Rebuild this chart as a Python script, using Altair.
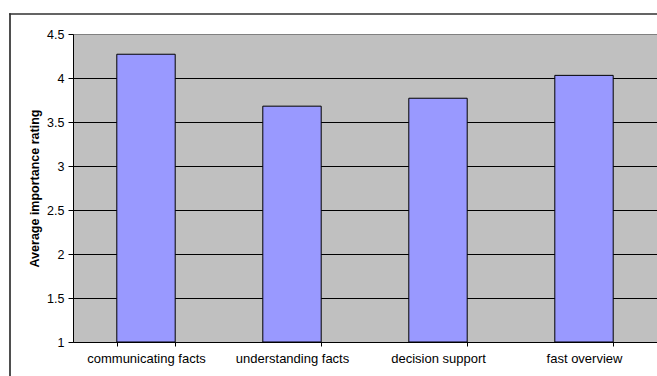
import altair as alt
import pandas as pd

# Survey results: average importance rating per purpose
purposes = ["communicating facts", "understanding facts", "decision support", "fast overview"]
ratings = [4.27, 3.68, 3.77, 4.03]
y_ticks = [1, 1.5, 2, 2.5, 3, 3.5, 4, 4.5]
y_title = "Average importance rating"

df = pd.DataFrame({"purpose": purposes, "rating": ratings})

FONT = "Liberation Sans"
PLOT_W, PLOT_H = 584, 308
FRAME_COLOR = "#303030"

bars = alt.Chart(df).mark_bar(
    color="#9999FF", stroke="#000000", strokeWidth=1
).encode(
    x=alt.X(
        "purpose:N",
        sort=purposes,
        title=None,
        scale=alt.Scale(paddingInner=0.6, paddingOuter=0.3),
        axis=alt.Axis(
            labelAngle=0,
            tickBand="extent",
            tickSize=4,
            tickColor="#000000",
            domainColor="#000000",
            labelPadding=6,
            labelFont=FONT,
            labelFontSize=13,
            labelColor="#000000",
            grid=False,
        ),
    ),
    y=alt.Y(
        "rating:Q",
        title=y_title,
        scale=alt.Scale(domain=[1, 4.5], nice=False, zero=False),
        axis=alt.Axis(
            values=y_ticks,
            format=".1~f",
            tickSize=5,
            tickColor="#000000",
            domainColor="#000000",
            labelPadding=4,
            labelFont=FONT,
            labelFontSize=12.5,
            labelColor="#000000",
            titleFont=FONT,
            titleFontSize=12.5,
            titleFontWeight="bold",
            titleColor="#000000",
            titlePadding=5,
            grid=True,
            gridColor={"condition": {"test": "datum.value >= 4.5", "value": "#808080"}, "value": "#000000"},
            gridWidth=1,
            gridOpacity=1,
        ),
    ),
    y2=alt.datum(1),
)

# Outer chart frame: left and top edges (the rest runs off the canvas)
frame_left = alt.Chart(alt.Data(values=[{}])).mark_rule(
    color=FRAME_COLOR, strokeWidth=1.7
).encode(
    x=alt.value(-63),
    y=alt.value(-20.85),
    y2=alt.value(PLOT_H + 80),
)
frame_top = alt.Chart(alt.Data(values=[{}])).mark_rule(
    color=FRAME_COLOR, strokeWidth=1.7
).encode(
    x=alt.value(-63.85),
    x2=alt.value(PLOT_W + 40),
    y=alt.value(-20),
)

chart = alt.layer(bars, frame_left, frame_top).properties(
    width=PLOT_W,
    height=PLOT_H,
    background="#FFFFFF",
    padding={"left": 73, "top": 34, "right": 0, "bottom": 34},
    autosize=alt.AutoSizeParams(type="none"),
).configure_view(
    fill="#C0C0C0", strokeWidth=0
)

chart.save("out.html", embed_options={"renderer": "svg", "actions": False})
